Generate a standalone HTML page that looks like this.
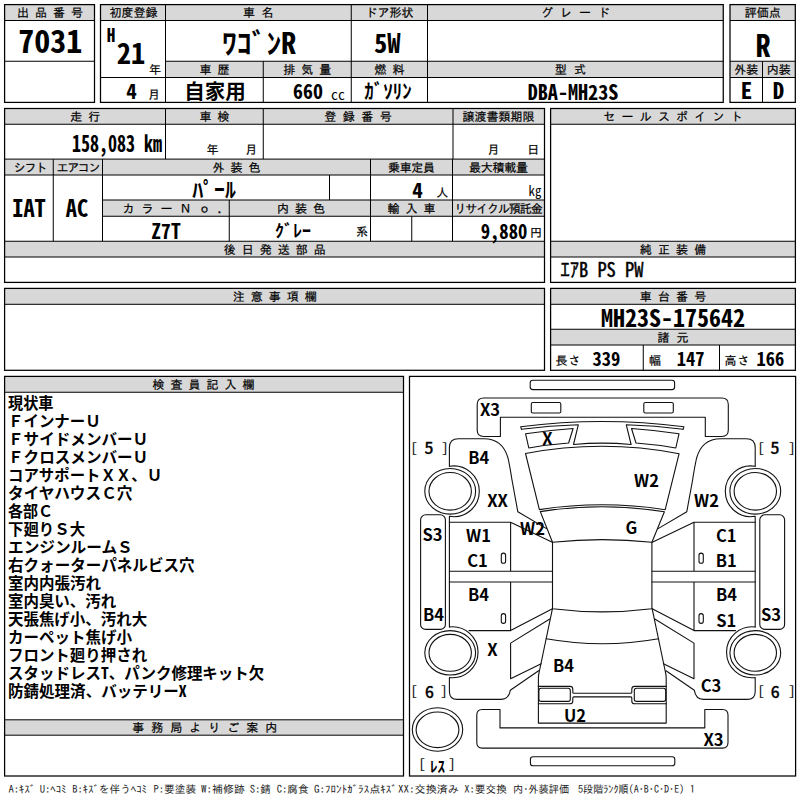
<!DOCTYPE html>
<html lang="ja"><head><meta charset="utf-8"><title>出品票</title>
<style>
html,body{margin:0;padding:0;background:#fff;}
body{width:800px;height:800px;position:relative;overflow:hidden;}
svg{position:absolute;left:0;top:0;}
.t{position:absolute;white-space:nowrap;display:block;}
</style></head><body>
<svg width="800" height="800" viewBox="0 0 800 800" shape-rendering="geometricPrecision">
<rect x="5" y="4.6" width="89.50" height="15.90" fill="#d8d8d8"/>
<rect x="4.6" y="4.6" width="89.90" height="97.80" fill="none" stroke="#000" stroke-width="1.25"/>
<line x1="5" y1="20.5" x2="94.5" y2="20.5" stroke="#000" stroke-width="1.0"/>
<line x1="5" y1="61.25" x2="94.5" y2="61.25" stroke="#000" stroke-width="1.0"/>
<rect x="100.5" y="4.6" width="622.75" height="15.90" fill="#d8d8d8"/>
<rect x="165.5" y="61.25" width="557.75" height="16.25" fill="#d8d8d8"/>
<rect x="100.5" y="4.6" width="622.75" height="97.80" fill="none" stroke="#000" stroke-width="1.25"/>
<line x1="100.5" y1="20.5" x2="723.25" y2="20.5" stroke="#000" stroke-width="1.0"/>
<line x1="165.5" y1="61.25" x2="723.25" y2="61.25" stroke="#000" stroke-width="1.0"/>
<line x1="165.5" y1="77.5" x2="723.25" y2="77.5" stroke="#000" stroke-width="1.0"/>
<line x1="100.5" y1="77.5" x2="165.5" y2="77.5" stroke="#000" stroke-width="1.0"/>
<line x1="165.5" y1="4.6" x2="165.5" y2="102.4" stroke="#000" stroke-width="1.0"/>
<line x1="351.25" y1="4.6" x2="351.25" y2="102.4" stroke="#000" stroke-width="1.0"/>
<line x1="427.5" y1="4.6" x2="427.5" y2="102.4" stroke="#000" stroke-width="1.0"/>
<line x1="263.25" y1="61.25" x2="263.25" y2="102.4" stroke="#000" stroke-width="1.0"/>
<rect x="730" y="4.6" width="65.30" height="15.90" fill="#d8d8d8"/>
<rect x="730" y="61.25" width="65.30" height="16.25" fill="#d8d8d8"/>
<rect x="730" y="4.6" width="65.30" height="97.80" fill="none" stroke="#000" stroke-width="1.25"/>
<line x1="730" y1="20.5" x2="795.3" y2="20.5" stroke="#000" stroke-width="1.0"/>
<line x1="730" y1="61.25" x2="795.3" y2="61.25" stroke="#000" stroke-width="1.0"/>
<line x1="730" y1="77.5" x2="795.3" y2="77.5" stroke="#000" stroke-width="1.0"/>
<line x1="762.5" y1="61.25" x2="762.5" y2="102.4" stroke="#000" stroke-width="1.0"/>
<rect x="4.6" y="108.5" width="539.90" height="15.75" fill="#d8d8d8"/>
<rect x="4.6" y="159.1" width="539.90" height="15.90" fill="#d8d8d8"/>
<rect x="102.5" y="200" width="442.00" height="16.25" fill="#d8d8d8"/>
<rect x="4.6" y="241.25" width="539.90" height="15.75" fill="#d8d8d8"/>
<rect x="4.6" y="108.5" width="539.90" height="173.90" fill="none" stroke="#000" stroke-width="1.25"/>
<line x1="4.6" y1="124.25" x2="544.5" y2="124.25" stroke="#000" stroke-width="1.0"/>
<line x1="4.6" y1="159.1" x2="544.5" y2="159.1" stroke="#000" stroke-width="1.0"/>
<line x1="4.6" y1="175" x2="544.5" y2="175" stroke="#000" stroke-width="1.0"/>
<line x1="4.6" y1="241.25" x2="544.5" y2="241.25" stroke="#000" stroke-width="1.0"/>
<line x1="4.6" y1="257" x2="544.5" y2="257" stroke="#000" stroke-width="1.0"/>
<line x1="102.5" y1="200" x2="544.5" y2="200" stroke="#000" stroke-width="1.0"/>
<line x1="102.5" y1="216.25" x2="544.5" y2="216.25" stroke="#000" stroke-width="1.0"/>
<line x1="165.5" y1="108.5" x2="165.5" y2="159.1" stroke="#000" stroke-width="1.0"/>
<line x1="263.25" y1="108.5" x2="263.25" y2="159.1" stroke="#000" stroke-width="1.0"/>
<line x1="453" y1="108.5" x2="453" y2="159.1" stroke="#000" stroke-width="1.0"/>
<line x1="53.25" y1="159.1" x2="53.25" y2="241.25" stroke="#000" stroke-width="1.0"/>
<line x1="102.5" y1="159.1" x2="102.5" y2="241.25" stroke="#000" stroke-width="1.0"/>
<line x1="370.5" y1="159.1" x2="370.5" y2="241.25" stroke="#000" stroke-width="1.0"/>
<line x1="452.5" y1="159.1" x2="452.5" y2="241.25" stroke="#000" stroke-width="1.0"/>
<line x1="329.5" y1="175" x2="329.5" y2="200" stroke="#000" stroke-width="1.0"/>
<line x1="229.25" y1="200" x2="229.25" y2="241.25" stroke="#000" stroke-width="1.0"/>
<line x1="411.75" y1="216.25" x2="411.75" y2="241.25" stroke="#000" stroke-width="1.0"/>
<rect x="550.6" y="108.5" width="244.80" height="15.75" fill="#d8d8d8"/>
<rect x="550.6" y="241.25" width="244.80" height="15.75" fill="#d8d8d8"/>
<rect x="550.6" y="108.5" width="244.80" height="173.90" fill="none" stroke="#000" stroke-width="1.25"/>
<line x1="550.6" y1="124.25" x2="795.4" y2="124.25" stroke="#000" stroke-width="1.0"/>
<line x1="550.6" y1="241.25" x2="795.4" y2="241.25" stroke="#000" stroke-width="1.0"/>
<line x1="550.6" y1="257" x2="795.4" y2="257" stroke="#000" stroke-width="1.0"/>
<rect x="4.6" y="288.4" width="539.90" height="15.90" fill="#d8d8d8"/>
<rect x="4.6" y="288.4" width="539.90" height="81.90" fill="none" stroke="#000" stroke-width="1.25"/>
<line x1="4.6" y1="304.3" x2="544.5" y2="304.3" stroke="#000" stroke-width="1.0"/>
<rect x="550.6" y="288.4" width="244.80" height="15.90" fill="#d8d8d8"/>
<rect x="550.6" y="329.25" width="244.80" height="15.75" fill="#d8d8d8"/>
<rect x="550.6" y="288.4" width="244.80" height="81.90" fill="none" stroke="#000" stroke-width="1.25"/>
<line x1="550.6" y1="304.3" x2="795.4" y2="304.3" stroke="#000" stroke-width="1.0"/>
<line x1="550.6" y1="329.25" x2="795.4" y2="329.25" stroke="#000" stroke-width="1.0"/>
<line x1="550.6" y1="345" x2="795.4" y2="345" stroke="#000" stroke-width="1.0"/>
<line x1="643.25" y1="345" x2="643.25" y2="370.3" stroke="#000" stroke-width="1.0"/>
<line x1="719.5" y1="345" x2="719.5" y2="370.3" stroke="#000" stroke-width="1.0"/>
<rect x="4.6" y="376.4" width="398.90" height="15.85" fill="#d8d8d8"/>
<rect x="4.6" y="719.8" width="398.90" height="15.40" fill="#d8d8d8"/>
<rect x="4.6" y="376.4" width="398.90" height="399.60" fill="none" stroke="#000" stroke-width="1.25"/>
<line x1="4.6" y1="392.25" x2="403.5" y2="392.25" stroke="#000" stroke-width="1.0"/>
<line x1="4.6" y1="719.8" x2="403.5" y2="719.8" stroke="#000" stroke-width="1.0"/>
<line x1="4.6" y1="735.2" x2="403.5" y2="735.2" stroke="#000" stroke-width="1.0"/>
<rect x="409.5" y="376.4" width="386.10" height="399.60" fill="none" stroke="#000" stroke-width="1.25"/>
</svg>
<svg width="800" height="800" viewBox="0 0 800 800" fill="none" stroke="#111" stroke-width="1.1" stroke-linejoin="round" stroke-linecap="round">
<rect x="530.2" y="380.2" width="144.40" height="9.40" rx="2.6" ry="2.6"/>
<rect x="530.4" y="756.8" width="144.40" height="9.00" rx="2.6" ry="2.6"/>
<path d="M477.2,404.5 Q477.2,398 483.7,398 H721.8 Q728.3,398 728.3,404.5 V430 Q728.3,436.5 721.8,436.5 H705.3 V417.2 H500.4 V436.5 H483.7 Q477.2,436.5 477.2,430 Z" />
<path d="M521.5,429.3 L520.7,426.8 Q602.3,416.2 683.9,426.8 L683.1,429.3" />
<path d="M521.5,429.3 Q549.9,425.6 578.3,424.8 L573.5,444.5 Q602.3,441.8 631.1,444.5 L626.3,424.8 Q654.7,425.6 683.1,429.3" />
<path d="M525.5,453.5 Q602.3,439 679.1,453.7 L665.2,509.7 Q602.3,500 539.4,509.6 Z" />
<path d="M540.3,511.6 Q602.3,501.8 664.4,511.7 L651.9,542.3 Q602.3,537 552.5,542.3 Z" />
<path d="M552.5,542.3 V608.8 Q602.3,615 651.9,608.8 V542.3" />
<path d="M546.3,638.8 Q602.3,648.8 658.6,638.8" />
<path d="M538.4,686.4 V723.1 H666.2 V686.4" />
<path d="M538.4,686.4 H570 Q572.8,686.4 572.8,689.2 V692.2 Q572.8,693.2 573.8,693.2 H630.8 Q631.8,693.2 631.8,692.2 V689.2 Q631.8,686.4 634.6,686.4 H666.2" />
<path d="M538.4,703.8 H570 Q572.8,703.8 572.8,701 V697.9 Q572.8,696.9 573.8,696.9 H630.8 Q631.8,696.9 631.8,697.9 V701 Q631.8,703.8 634.6,703.8 H666.2" />
<path d="M476.8,715 Q476.8,709.5 482.3,709.5 H500 V727.9 H704.8 V709.5 H722.5 Q728,709.5 728,715 V742.6 Q728,748.1 722.5,748.1 H482.3 Q476.8,748.1 476.8,742.6 Z" />
<ellipse cx="437.5" cy="729.5" rx="25.2" ry="21.8"/>
<ellipse cx="437.5" cy="729.8" rx="21.4" ry="17.8"/>
<rect x="531.3" y="402.5" width="29.50" height="10.50" rx="1.6" ry="1.6"/>
<path d="M525.6,433.8 Q549,430.2 573.1,428.5 L568.6,443 Q548,444.6 528.8,448 Z" />
<path d="M449.4,466.3 V447.6 Q449.4,438.7 458.4,438.7 H484 C496.5,438.7 504.5,445.5 508,458 Q510,467 512,480 L517.8,511.7 L546.5,528.6" />
<path d="M449.4,466.3 A25.4,25.4 0 1 1 449.4,516.3 V627" />
<ellipse cx="450.2" cy="491.3" rx="25.4" ry="22.8"/>
<ellipse cx="450.2" cy="491.3" rx="21.2" ry="18.8"/>
<rect x="420.6" y="514.8" width="24.80" height="114.60" rx="5" ry="5"/>
<path d="M449.4,522.3 H510.6 L552.3,542.2 M510.6,522.3 V571.3 M449.4,571.3 H552.5 M449.4,582 H552.5 M510.6,582 V630.6 M469,630.6 H510.6 L552.4,608.8" />
<rect x="501.3" y="553.1" width="4.30" height="10.20" rx="2.1" ry="2.1"/>
<rect x="501.3" y="613.6" width="4.30" height="9.80" rx="2.1" ry="2.1"/>
<path d="M449.4,627 A25.45,25.45 0 1 1 449.4,677.5 V691.4 Q449.4,699.4 457.4,699.4 H501 Q509,699.4 510.3,690.2 L538.6,670.7" />
<ellipse cx="450.2" cy="652.8" rx="25.4" ry="22.2"/>
<ellipse cx="450.2" cy="652.8" rx="21.2" ry="18.4"/>
<path d="M552.4,608.8 L539.2,672 Q538.4,675 538.4,678 V686.3" />
<path d="M549.8,619 L510.6,643.1 V678.8 L541.2,663.8" />
<rect x="538.9" y="688.3" width="31.40" height="13.10" rx="2.2" ry="2.2"/>
<g transform="translate(1204.60,0) scale(-1,1)">
<rect x="531.3" y="402.5" width="29.50" height="10.50" rx="1.6" ry="1.6"/>
<path d="M525.6,433.8 Q549,430.2 573.1,428.5 L568.6,443 Q548,444.6 528.8,448 Z" />
<path d="M449.4,466.3 V447.6 Q449.4,438.7 458.4,438.7 H484 C496.5,438.7 504.5,445.5 508,458 Q510,467 512,480 L517.8,511.7 L546.5,528.6" />
<path d="M449.4,466.3 A25.4,25.4 0 1 1 449.4,516.3 V627" />
<ellipse cx="449.3" cy="491.3" rx="25.4" ry="22.8"/>
<ellipse cx="449.3" cy="491.3" rx="21.2" ry="18.8"/>
<rect x="420.0" y="514.8" width="24.80" height="114.60" rx="5" ry="5"/>
<path d="M449.4,522.3 H510.6 L552.3,542.2 M510.6,522.3 V571.3 M449.4,571.3 H552.5 M449.4,582 H552.5 M510.6,582 V630.6 M469,630.6 H510.6 L552.4,608.8" />
<rect x="501.3" y="553.1" width="4.30" height="10.20" rx="2.1" ry="2.1"/>
<rect x="501.3" y="613.6" width="4.30" height="9.80" rx="2.1" ry="2.1"/>
<path d="M449.4,627 A25.45,25.45 0 1 1 449.4,677.5 V691.4 Q449.4,699.4 457.4,699.4 H501 Q509,699.4 510.3,690.2 L538.6,670.7" />
<ellipse cx="449.3" cy="652.8" rx="25.4" ry="22.2"/>
<ellipse cx="449.3" cy="652.8" rx="21.2" ry="18.4"/>
<path d="M552.4,608.8 L539.2,672 Q538.4,675 538.4,678 V686.3" />
<path d="M549.8,619 L510.6,643.1 V678.8 L541.2,663.8" />
<rect x="538.9" y="688.3" width="31.40" height="13.10" rx="2.2" ry="2.2"/>
</g>
</svg>
<span class="t" style="left:53.0px;top:12.1px;font:normal 12px/1 'IPAGothic','Noto Sans CJK JP',sans-serif;letter-spacing:6px;margin-right:-6px;transform:translate(-50%,-50%);transform-origin:50% 50%;color:#000;-webkit-text-stroke:0.2px #000;">出品番号</span>
<span class="t" style="left:133.5px;top:12.1px;font:normal 12px/1 'IPAGothic','Noto Sans CJK JP',sans-serif;transform:translate(-50%,-50%);transform-origin:50% 50%;color:#000;-webkit-text-stroke:0.2px #000;">初度登録</span>
<span class="t" style="left:261.4px;top:12.1px;font:normal 12px/1 'IPAGothic','Noto Sans CJK JP',sans-serif;letter-spacing:6.4px;margin-right:-6.4px;transform:translate(-50%,-50%);transform-origin:50% 50%;color:#000;-webkit-text-stroke:0.2px #000;">車名</span>
<span class="t" style="left:389.4px;top:12.1px;font:normal 12px/1 'IPAGothic','Noto Sans CJK JP',sans-serif;transform:translate(-50%,-50%);transform-origin:50% 50%;color:#000;-webkit-text-stroke:0.2px #000;">ドア形状</span>
<span class="t" style="left:578.9px;top:12.1px;font:normal 12px/1 'IPAGothic','Noto Sans CJK JP',sans-serif;letter-spacing:7px;margin-right:-7px;transform:translate(-50%,-50%);transform-origin:50% 50%;color:#000;-webkit-text-stroke:0.2px #000;">グレード</span>
<span class="t" style="left:762.8px;top:12.1px;font:normal 12px/1 'IPAGothic','Noto Sans CJK JP',sans-serif;transform:translate(-50%,-50%);transform-origin:50% 50%;color:#000;-webkit-text-stroke:0.2px #000;">評価点</span>
<span class="t" style="left:217.4px;top:69.0px;font:normal 12px/1 'IPAGothic','Noto Sans CJK JP',sans-serif;letter-spacing:6px;margin-right:-6px;transform:translate(-50%,-50%);transform-origin:50% 50%;color:#000;-webkit-text-stroke:0.2px #000;">車歴</span>
<span class="t" style="left:310.25px;top:69.0px;font:normal 12px/1 'IPAGothic','Noto Sans CJK JP',sans-serif;letter-spacing:6px;margin-right:-6px;transform:translate(-50%,-50%);transform-origin:50% 50%;color:#000;-webkit-text-stroke:0.2px #000;">排気量</span>
<span class="t" style="left:392.4px;top:69.0px;font:normal 12px/1 'IPAGothic','Noto Sans CJK JP',sans-serif;letter-spacing:6px;margin-right:-6px;transform:translate(-50%,-50%);transform-origin:50% 50%;color:#000;-webkit-text-stroke:0.2px #000;">燃料</span>
<span class="t" style="left:574.0px;top:69.0px;font:normal 12px/1 'IPAGothic','Noto Sans CJK JP',sans-serif;letter-spacing:7.2px;margin-right:-7.2px;transform:translate(-50%,-50%);transform-origin:50% 50%;color:#000;-webkit-text-stroke:0.2px #000;">型式</span>
<span class="t" style="left:746.25px;top:69.0px;font:normal 12px/1 'IPAGothic','Noto Sans CJK JP',sans-serif;transform:translate(-50%,-50%);transform-origin:50% 50%;color:#000;-webkit-text-stroke:0.2px #000;">外装</span>
<span class="t" style="left:778.75px;top:69.0px;font:normal 12px/1 'IPAGothic','Noto Sans CJK JP',sans-serif;transform:translate(-50%,-50%);transform-origin:50% 50%;color:#000;-webkit-text-stroke:0.2px #000;">内装</span>
<span class="t" style="left:88.25px;top:116.1px;font:normal 12px/1 'IPAGothic','Noto Sans CJK JP',sans-serif;letter-spacing:6px;margin-right:-6px;transform:translate(-50%,-50%);transform-origin:50% 50%;color:#000;-webkit-text-stroke:0.2px #000;">走行</span>
<span class="t" style="left:217.4px;top:116.1px;font:normal 12px/1 'IPAGothic','Noto Sans CJK JP',sans-serif;letter-spacing:6px;margin-right:-6px;transform:translate(-50%,-50%);transform-origin:50% 50%;color:#000;-webkit-text-stroke:0.2px #000;">車検</span>
<span class="t" style="left:361.25px;top:116.1px;font:normal 12px/1 'IPAGothic','Noto Sans CJK JP',sans-serif;letter-spacing:6.5px;margin-right:-6.5px;transform:translate(-50%,-50%);transform-origin:50% 50%;color:#000;-webkit-text-stroke:0.2px #000;">登録番号</span>
<span class="t" style="left:498.5px;top:116.1px;font:normal 12px/1 'IPAGothic','Noto Sans CJK JP',sans-serif;transform:translate(-50%,-50%);transform-origin:50% 50%;color:#000;-webkit-text-stroke:0.2px #000;">譲渡書類期限</span>
<span class="t" style="left:676.1px;top:116.1px;font:normal 12px/1 'IPAGothic','Noto Sans CJK JP',sans-serif;letter-spacing:6.2px;margin-right:-6.2px;transform:translate(-50%,-50%);transform-origin:50% 50%;color:#000;-webkit-text-stroke:0.2px #000;">セールスポイント</span>
<span class="t" style="left:30.0px;top:166.5px;font:normal 12px/1 'IPAGothic','Noto Sans CJK JP',sans-serif;letter-spacing:-1.2px;margin-right:1.2px;transform:translate(-50%,-50%);transform-origin:50% 50%;color:#000;-webkit-text-stroke:0.2px #000;">シフト</span>
<span class="t" style="left:77.85px;top:166.5px;font:normal 12px/1 'IPAGothic','Noto Sans CJK JP',sans-serif;letter-spacing:-1.3px;margin-right:1.3px;transform:translate(-50%,-50%);transform-origin:50% 50%;color:#000;-webkit-text-stroke:0.2px #000;">エアコン</span>
<span class="t" style="left:239.5px;top:166.5px;font:normal 12px/1 'IPAGothic','Noto Sans CJK JP',sans-serif;letter-spacing:6px;margin-right:-6px;transform:translate(-50%,-50%);transform-origin:50% 50%;color:#000;-webkit-text-stroke:0.2px #000;">外装色</span>
<span class="t" style="left:411.35px;top:166.5px;font:normal 12px/1 'IPAGothic','Noto Sans CJK JP',sans-serif;letter-spacing:-0.3px;margin-right:0.3px;transform:translate(-50%,-50%);transform-origin:50% 50%;color:#000;-webkit-text-stroke:0.2px #000;">乗車定員</span>
<span class="t" style="left:498.35px;top:166.5px;font:normal 12px/1 'IPAGothic','Noto Sans CJK JP',sans-serif;letter-spacing:-0.3px;margin-right:0.3px;transform:translate(-50%,-50%);transform-origin:50% 50%;color:#000;-webkit-text-stroke:0.2px #000;">最大積載量</span>
<span class="t" style="left:179.5px;top:207.7px;font:normal 12px/1 'IPAGothic','Noto Sans CJK JP',sans-serif;letter-spacing:7px;margin-right:-7px;transform:translate(-50%,-50%);transform-origin:50% 50%;color:#000;-webkit-text-stroke:0.2px #000;">カラーＮｏ．</span>
<span class="t" style="left:304.0px;top:207.7px;font:normal 12px/1 'IPAGothic','Noto Sans CJK JP',sans-serif;letter-spacing:6px;margin-right:-6px;transform:translate(-50%,-50%);transform-origin:50% 50%;color:#000;-webkit-text-stroke:0.2px #000;">内装色</span>
<span class="t" style="left:414.5px;top:207.7px;font:normal 12px/1 'IPAGothic','Noto Sans CJK JP',sans-serif;letter-spacing:6px;margin-right:-6px;transform:translate(-50%,-50%);transform-origin:50% 50%;color:#000;-webkit-text-stroke:0.2px #000;">輸入車</span>
<span class="t" style="left:497.95px;top:207.7px;font:normal 12px/1 'IPAGothic','Noto Sans CJK JP',sans-serif;letter-spacing:-1.1px;margin-right:1.1px;transform:translate(-50%,-50%);transform-origin:50% 50%;color:#000;-webkit-text-stroke:0.2px #000;">リサイクル預託金</span>
<span class="t" style="left:277.75px;top:248.7px;font:normal 12px/1 'IPAGothic','Noto Sans CJK JP',sans-serif;letter-spacing:6px;margin-right:-6px;transform:translate(-50%,-50%);transform-origin:50% 50%;color:#000;-webkit-text-stroke:0.2px #000;">後日発送部品</span>
<span class="t" style="left:676.1px;top:248.7px;font:normal 12px/1 'IPAGothic','Noto Sans CJK JP',sans-serif;letter-spacing:6.2px;margin-right:-6.2px;transform:translate(-50%,-50%);transform-origin:50% 50%;color:#000;-webkit-text-stroke:0.2px #000;">純正装備</span>
<span class="t" style="left:277.75px;top:296.1px;font:normal 12px/1 'IPAGothic','Noto Sans CJK JP',sans-serif;letter-spacing:6px;margin-right:-6px;transform:translate(-50%,-50%);transform-origin:50% 50%;color:#000;-webkit-text-stroke:0.2px #000;">注意事項欄</span>
<span class="t" style="left:676.1px;top:296.1px;font:normal 12px/1 'IPAGothic','Noto Sans CJK JP',sans-serif;letter-spacing:6.2px;margin-right:-6.2px;transform:translate(-50%,-50%);transform-origin:50% 50%;color:#000;-webkit-text-stroke:0.2px #000;">車台番号</span>
<span class="t" style="left:676.5px;top:336.7px;font:normal 12px/1 'IPAGothic','Noto Sans CJK JP',sans-serif;letter-spacing:7px;margin-right:-7px;transform:translate(-50%,-50%);transform-origin:50% 50%;color:#000;-webkit-text-stroke:0.2px #000;">諸元</span>
<span class="t" style="left:206.5px;top:384.1px;font:normal 12px/1 'IPAGothic','Noto Sans CJK JP',sans-serif;letter-spacing:6px;margin-right:-6px;transform:translate(-50%,-50%);transform-origin:50% 50%;color:#000;-webkit-text-stroke:0.2px #000;">検査員記入欄</span>
<span class="t" style="left:208.25px;top:727.3px;font:normal 12px/1 'IPAGothic','Noto Sans CJK JP',sans-serif;letter-spacing:7px;margin-right:-7px;transform:translate(-50%,-50%);transform-origin:50% 50%;color:#000;-webkit-text-stroke:0.2px #000;">事務局よりご案内</span>
<span class="t" style="left:50.3px;top:38.9px;font:bold 32px/1 'Noto Sans Mono CJK JP','Noto Sans CJK JP','Liberation Mono',monospace;transform:translate(-50%,-50%);transform-origin:50% 50%;color:#000;">7031</span>
<span class="t" style="left:111.0px;top:33.3px;font:bold 19px/1 'Noto Sans Mono CJK JP','Noto Sans CJK JP','Liberation Mono',monospace;transform:translate(-50%,-50%) scale(0.9,1.0);transform-origin:50% 50%;color:#000;">H</span>
<span class="t" style="left:131.0px;top:51.0px;font:bold 29px/1 'Noto Sans Mono CJK JP','Noto Sans CJK JP','Liberation Mono',monospace;transform:translate(-50%,-50%) scale(0.98,1.0);transform-origin:50% 50%;color:#000;">21</span>
<span class="t" style="left:155.0px;top:68.5px;font:normal 12px/1 'IPAGothic','Noto Sans CJK JP',sans-serif;transform:translate(-50%,-50%);transform-origin:50% 50%;color:#000;-webkit-text-stroke:0.2px #000;">年</span>
<span class="t" style="left:154.0px;top:93.7px;font:normal 12px/1 'IPAGothic','Noto Sans CJK JP',sans-serif;transform:translate(-50%,-50%);transform-origin:50% 50%;color:#000;-webkit-text-stroke:0.2px #000;">月</span>
<span class="t" style="left:131.6px;top:90.2px;font:bold 21px/1 'Noto Sans Mono CJK JP','Noto Sans CJK JP','Liberation Mono',monospace;transform:translate(-50%,-50%);transform-origin:50% 50%;color:#000;">4</span>
<span class="t" style="left:259.2px;top:41.9px;font:bold 28.8px/1 'Noto Sans Mono CJK JP','Noto Sans CJK JP','Liberation Mono',monospace;transform:translate(-50%,-50%) scale(1.03,1.0);transform-origin:50% 50%;color:#000;">ﾜｺﾞﾝR</span>
<span class="t" style="left:387.2px;top:42.3px;font:bold 26.5px/1 'Noto Sans Mono CJK JP','Noto Sans CJK JP','Liberation Mono',monospace;transform:translate(-50%,-50%);transform-origin:50% 50%;color:#000;">5W</span>
<span class="t" style="left:763.0px;top:42.5px;font:bold 31px/1 'Noto Sans Mono CJK JP','Noto Sans CJK JP','Liberation Mono',monospace;transform:translate(-50%,-50%) scale(0.95,1.0);transform-origin:50% 50%;color:#000;">R</span>
<span class="t" style="left:746.5px;top:88.9px;font:bold 23px/1 'Noto Sans Mono CJK JP','Noto Sans CJK JP','Liberation Mono',monospace;transform:translate(-50%,-50%);transform-origin:50% 50%;color:#000;">E</span>
<span class="t" style="left:778.6px;top:88.9px;font:bold 23px/1 'Noto Sans Mono CJK JP','Noto Sans CJK JP','Liberation Mono',monospace;transform:translate(-50%,-50%);transform-origin:50% 50%;color:#000;">D</span>
<span class="t" style="left:215.1px;top:89.6px;font:bold 20.5px/1 'Noto Sans CJK JP','Liberation Sans',sans-serif;transform:translate(-50%,-50%);transform-origin:50% 50%;color:#000;">自家用</span>
<span class="t" style="left:308.0px;top:90.2px;font:bold 21px/1 'Noto Sans Mono CJK JP','Noto Sans CJK JP','Liberation Mono',monospace;transform:translate(-50%,-50%) scale(0.95,1.0);transform-origin:50% 50%;color:#000;">660</span>
<span class="t" style="left:338.0px;top:94px;font:normal 14px/1 'Noto Sans Mono CJK JP','Noto Sans CJK JP','Liberation Mono',monospace;transform:translate(-50%,-50%);transform-origin:50% 50%;color:#000;">cc</span>
<span class="t" style="left:388.0px;top:91.2px;font:bold 20px/1 'Noto Sans Mono CJK JP','Noto Sans CJK JP','Liberation Mono',monospace;transform:translate(-50%,-50%) scale(0.95,1.0);transform-origin:50% 50%;color:#000;">ｶﾞｿﾘﾝ</span>
<span class="t" style="left:573.2px;top:91.4px;font:bold 21px/1 'Noto Sans Mono CJK JP','Noto Sans CJK JP','Liberation Mono',monospace;transform:translate(-50%,-50%) scale(0.96,1.0);transform-origin:50% 50%;color:#000;">DBA-MH23S</span>
<span class="t" style="left:117.3px;top:142.3px;font:bold 22.5px/1 'Noto Sans Mono CJK JP','Noto Sans CJK JP','Liberation Mono',monospace;transform:translate(-50%,-50%) scale(0.8,1.0);transform-origin:50% 50%;color:#000;">158,083 km</span>
<span class="t" style="left:212.5px;top:148.8px;font:normal 12px/1 'IPAGothic','Noto Sans CJK JP',sans-serif;transform:translate(-50%,-50%);transform-origin:50% 50%;color:#000;-webkit-text-stroke:0.2px #000;">年</span>
<span class="t" style="left:251.3px;top:148.8px;font:normal 12px/1 'IPAGothic','Noto Sans CJK JP',sans-serif;transform:translate(-50%,-50%);transform-origin:50% 50%;color:#000;-webkit-text-stroke:0.2px #000;">月</span>
<span class="t" style="left:493.5px;top:149.2px;font:normal 12px/1 'IPAGothic','Noto Sans CJK JP',sans-serif;transform:translate(-50%,-50%);transform-origin:50% 50%;color:#000;-webkit-text-stroke:0.2px #000;">月</span>
<span class="t" style="left:533.2px;top:149.2px;font:normal 12px/1 'IPAGothic','Noto Sans CJK JP',sans-serif;transform:translate(-50%,-50%);transform-origin:50% 50%;color:#000;-webkit-text-stroke:0.2px #000;">日</span>
<span class="t" style="left:28.75px;top:207px;font:bold 24px/1 'Noto Sans Mono CJK JP','Noto Sans CJK JP','Liberation Mono',monospace;transform:translate(-50%,-50%) scale(0.93,1.0);transform-origin:50% 50%;color:#000;">IAT</span>
<span class="t" style="left:77.0px;top:207px;font:bold 24px/1 'Noto Sans Mono CJK JP','Noto Sans CJK JP','Liberation Mono',monospace;transform:translate(-50%,-50%) scale(0.93,1.0);transform-origin:50% 50%;color:#000;">AC</span>
<span class="t" style="left:213.8px;top:188.1px;font:bold 21px/1 'Noto Sans Mono CJK JP','Noto Sans CJK JP','Liberation Mono',monospace;transform:translate(-50%,-50%) scale(1.04,1.0);transform-origin:50% 50%;color:#000;">ﾊﾟｰﾙ</span>
<span class="t" style="left:417.6px;top:188.8px;font:bold 21px/1 'Noto Sans Mono CJK JP','Noto Sans CJK JP','Liberation Mono',monospace;transform:translate(-50%,-50%);transform-origin:50% 50%;color:#000;">4</span>
<span class="t" style="left:442.3px;top:191.8px;font:normal 12px/1 'IPAGothic','Noto Sans CJK JP',sans-serif;transform:translate(-50%,-50%);transform-origin:50% 50%;color:#000;-webkit-text-stroke:0.2px #000;">人</span>
<span class="t" style="left:535.3px;top:190.7px;font:normal 13.5px/1 'Noto Sans Mono CJK JP','Noto Sans CJK JP','Liberation Mono',monospace;transform:translate(-50%,-50%) scale(0.95,1.0);transform-origin:50% 50%;color:#000;">kg</span>
<span class="t" style="left:166.0px;top:230px;font:bold 21px/1 'Noto Sans Mono CJK JP','Noto Sans CJK JP','Liberation Mono',monospace;transform:translate(-50%,-50%) scale(0.93,1.0);transform-origin:50% 50%;color:#000;">Z7T</span>
<span class="t" style="left:292.5px;top:230.4px;font:bold 17.5px/1 'Noto Sans Mono CJK JP','Noto Sans CJK JP','Liberation Mono',monospace;transform:translate(-50%,-50%) scale(1.03,1.0);transform-origin:50% 50%;color:#000;">ｸﾞﾚｰ</span>
<span class="t" style="left:362.0px;top:231.3px;font:normal 12px/1 'IPAGothic','Noto Sans CJK JP',sans-serif;transform:translate(-50%,-50%);transform-origin:50% 50%;color:#000;-webkit-text-stroke:0.2px #000;">系</span>
<span class="t" style="left:503.6px;top:229.9px;font:bold 21px/1 'Noto Sans Mono CJK JP','Noto Sans CJK JP','Liberation Mono',monospace;transform:translate(-50%,-50%) scale(0.885,1.0);transform-origin:50% 50%;color:#000;">9,880</span>
<span class="t" style="left:535.9px;top:231.8px;font:normal 12px/1 'IPAGothic','Noto Sans CJK JP',sans-serif;transform:translate(-50%,-50%);transform-origin:50% 50%;color:#000;-webkit-text-stroke:0.2px #000;">円</span>
<span class="t" style="left:602.0px;top:269.3px;font:normal 20px/1 'Noto Sans Mono CJK JP','Noto Sans CJK JP','Liberation Mono',monospace;transform:translate(-50%,-50%) scale(0.92,1.0);transform-origin:50% 50%;color:#000;-webkit-text-stroke:0.45px #000;">ｴｱB PS PW</span>
<span class="t" style="left:672.5px;top:316.6px;font:bold 24.5px/1 'Noto Sans Mono CJK JP','Noto Sans CJK JP','Liberation Mono',monospace;transform:translate(-50%,-50%) scale(0.98,1.0);transform-origin:50% 50%;color:#000;">MH23S-175642</span>
<span class="t" style="left:568.5px;top:359.9px;font:normal 12px/1 'IPAGothic','Noto Sans CJK JP',sans-serif;letter-spacing:1px;margin-right:-1px;transform:translate(-50%,-50%);transform-origin:50% 50%;color:#000;-webkit-text-stroke:0.2px #000;">長さ</span>
<span class="t" style="left:606.4px;top:358px;font:bold 18.5px/1 'Noto Sans Mono CJK JP','Noto Sans CJK JP','Liberation Mono',monospace;transform:translate(-50%,-50%);transform-origin:50% 50%;color:#000;">339</span>
<span class="t" style="left:655.0px;top:359.9px;font:normal 12px/1 'IPAGothic','Noto Sans CJK JP',sans-serif;transform:translate(-50%,-50%);transform-origin:50% 50%;color:#000;-webkit-text-stroke:0.2px #000;">幅</span>
<span class="t" style="left:690.6px;top:358px;font:bold 18.5px/1 'Noto Sans Mono CJK JP','Noto Sans CJK JP','Liberation Mono',monospace;transform:translate(-50%,-50%);transform-origin:50% 50%;color:#000;">147</span>
<span class="t" style="left:737.5px;top:359.9px;font:normal 12px/1 'IPAGothic','Noto Sans CJK JP',sans-serif;letter-spacing:1px;margin-right:-1px;transform:translate(-50%,-50%);transform-origin:50% 50%;color:#000;-webkit-text-stroke:0.2px #000;">高さ</span>
<span class="t" style="left:770.4px;top:358px;font:bold 18.5px/1 'Noto Sans Mono CJK JP','Noto Sans CJK JP','Liberation Mono',monospace;transform:translate(-50%,-50%);transform-origin:50% 50%;color:#000;">166</span>
<span class="t" style="left:8.3px;top:402.5px;font:bold 15.5px/1 'Noto Sans CJK JP','Liberation Sans',sans-serif;transform:translate(0,-50%) scale(0.978,1.0);transform-origin:0 50%;color:#000;">現状車</span>
<span class="t" style="left:8.3px;top:420.5px;font:bold 15.5px/1 'Noto Sans CJK JP','Liberation Sans',sans-serif;transform:translate(0,-50%) scale(0.997,1.0);transform-origin:0 50%;color:#000;">ＦインナーＵ</span>
<span class="t" style="left:8.3px;top:438.5px;font:bold 15.5px/1 'Noto Sans CJK JP','Liberation Sans',sans-serif;transform:translate(0,-50%) scale(1.005,1.0);transform-origin:0 50%;color:#000;">ＦサイドメンバーＵ</span>
<span class="t" style="left:8.3px;top:456.5px;font:bold 15.5px/1 'Noto Sans CJK JP','Liberation Sans',sans-serif;transform:translate(0,-50%) scale(1.005,1.0);transform-origin:0 50%;color:#000;">ＦクロスメンバーＵ</span>
<span class="t" style="left:8.3px;top:474.5px;font:bold 15.5px/1 'Noto Sans CJK JP','Liberation Sans',sans-serif;transform:translate(0,-50%) scale(0.994,1.0);transform-origin:0 50%;color:#000;">コアサポートＸＸ、Ｕ</span>
<span class="t" style="left:8.3px;top:492.5px;font:bold 15.5px/1 'Noto Sans CJK JP','Liberation Sans',sans-serif;transform:translate(0,-50%) scale(1.01,1.0);transform-origin:0 50%;color:#000;">タイヤハウスＣ穴</span>
<span class="t" style="left:8.3px;top:510.5px;font:bold 15.5px/1 'Noto Sans CJK JP','Liberation Sans',sans-serif;transform:translate(0,-50%) scale(0.968,1.0);transform-origin:0 50%;color:#000;">各部Ｃ</span>
<span class="t" style="left:8.3px;top:528.5px;font:bold 15.5px/1 'Noto Sans CJK JP','Liberation Sans',sans-serif;transform:translate(0,-50%) scale(0.994,1.0);transform-origin:0 50%;color:#000;">下廻りＳ大</span>
<span class="t" style="left:8.3px;top:546.5px;font:bold 15.5px/1 'Noto Sans CJK JP','Liberation Sans',sans-serif;transform:translate(0,-50%) scale(1.01,1.0);transform-origin:0 50%;color:#000;">エンジンルームＳ</span>
<span class="t" style="left:8.3px;top:564.5px;font:bold 15.5px/1 'Noto Sans CJK JP','Liberation Sans',sans-serif;transform:translate(0,-50%) scale(1.004,1.0);transform-origin:0 50%;color:#000;">右クォーターパネルビス穴</span>
<span class="t" style="left:8.3px;top:582.5px;font:bold 15.5px/1 'Noto Sans CJK JP','Liberation Sans',sans-serif;transform:translate(0,-50%) scale(1.001,1.0);transform-origin:0 50%;color:#000;">室内内張汚れ</span>
<span class="t" style="left:8.3px;top:600.5px;font:bold 15.5px/1 'Noto Sans CJK JP','Liberation Sans',sans-serif;transform:translate(0,-50%) scale(0.997,1.0);transform-origin:0 50%;color:#000;">室内臭い、汚れ</span>
<span class="t" style="left:8.3px;top:618.5px;font:bold 15.5px/1 'Noto Sans CJK JP','Liberation Sans',sans-serif;transform:translate(0,-50%) scale(0.997,1.0);transform-origin:0 50%;color:#000;">天張焦げ小、汚れ大</span>
<span class="t" style="left:8.3px;top:636.5px;font:bold 15.5px/1 'Noto Sans CJK JP','Liberation Sans',sans-serif;transform:translate(0,-50%) scale(1.001,1.0);transform-origin:0 50%;color:#000;">カーペット焦げ小</span>
<span class="t" style="left:8.3px;top:654.5px;font:bold 15.5px/1 'Noto Sans CJK JP','Liberation Sans',sans-serif;transform:translate(0,-50%) scale(0.997,1.0);transform-origin:0 50%;color:#000;">フロント廻り押され</span>
<span class="t" style="left:8.3px;top:672.5px;font:bold 15.5px/1 'Noto Sans CJK JP','Liberation Sans',sans-serif;transform:translate(0,-50%) scale(0.999,1.0);transform-origin:0 50%;color:#000;">スタッドレス<span style="font-family:'Noto Sans Mono CJK JP','Noto Sans CJK JP',monospace">T</span>、パンク修理キット欠</span>
<span class="t" style="left:8.3px;top:690.5px;font:bold 15.5px/1 'Noto Sans CJK JP','Liberation Sans',sans-serif;transform:translate(0,-50%) scale(1.002,1.0);transform-origin:0 50%;color:#000;">防錆処理済、バッテリー<span style="font-family:'Noto Sans Mono CJK JP','Noto Sans CJK JP',monospace">X</span></span>
<span class="t" style="left:8.45px;top:788.6px;font:normal 10.67px/1 'IPAGothic','Noto Sans CJK JP',monospace;transform:translate(0,-50%);transform-origin:0 50%;color:#222;">A:ｷｽﾞ</span>
<span class="t" style="left:39.7px;top:788.6px;font:normal 10.67px/1 'IPAGothic','Noto Sans CJK JP',monospace;transform:translate(0,-50%);transform-origin:0 50%;color:#222;">U:ﾍｺﾐ</span>
<span class="t" style="left:72.2px;top:788.6px;font:normal 10.67px/1 'IPAGothic','Noto Sans CJK JP',monospace;transform:translate(0,-50%);transform-origin:0 50%;color:#222;">B:ｷｽﾞを伴うﾍｺﾐ</span>
<span class="t" style="left:153.45px;top:788.6px;font:normal 10.67px/1 'IPAGothic','Noto Sans CJK JP',monospace;transform:translate(0,-50%);transform-origin:0 50%;color:#222;">P:要塗装</span>
<span class="t" style="left:200.95px;top:788.6px;font:normal 10.67px/1 'IPAGothic','Noto Sans CJK JP',monospace;transform:translate(0,-50%) scale(1.03,1.0);transform-origin:0 50%;color:#222;">W:補修跡</span>
<span class="t" style="left:249.7px;top:788.6px;font:normal 10.67px/1 'IPAGothic','Noto Sans CJK JP',monospace;transform:translate(0,-50%);transform-origin:0 50%;color:#222;">S:錆</span>
<span class="t" style="left:276.7px;top:788.6px;font:normal 10.67px/1 'IPAGothic','Noto Sans CJK JP',monospace;transform:translate(0,-50%);transform-origin:0 50%;color:#222;">C:腐食</span>
<span class="t" style="left:314.2px;top:788.6px;font:normal 10.67px/1 'IPAGothic','Noto Sans CJK JP',monospace;transform:translate(0,-50%) scale(1.035,1.0);transform-origin:0 50%;color:#222;">G:ﾌﾛﾝﾄｶﾞﾗｽ点ｷｽﾞ</span>
<span class="t" style="left:398.45px;top:788.6px;font:normal 10.67px/1 'IPAGothic','Noto Sans CJK JP',monospace;transform:translate(0,-50%) scale(1.04,1.0);transform-origin:0 50%;color:#222;">XX:交換済み</span>
<span class="t" style="left:464.2px;top:788.6px;font:normal 10.67px/1 'IPAGothic','Noto Sans CJK JP',monospace;transform:translate(0,-50%);transform-origin:0 50%;color:#222;">X:要交換</span>
<span class="t" style="left:513.45px;top:788.6px;font:normal 10.67px/1 'IPAGothic','Noto Sans CJK JP',monospace;transform:translate(0,-50%) scale(0.96,1.0);transform-origin:0 50%;color:#222;">内･外装評価</span>
<span class="t" style="left:578.45px;top:788.6px;font:normal 10.67px/1 'IPAGothic','Noto Sans CJK JP',monospace;transform:translate(0,-50%) scale(0.95,1.0);transform-origin:0 50%;color:#222;">5段階ﾗﾝｸ順(A･B･C･D･E)</span>
<span class="t" style="left:689.7px;top:788.6px;font:normal 10.67px/1 'IPAGothic','Noto Sans CJK JP',monospace;transform:translate(0,-50%);transform-origin:0 50%;color:#222;">1</span>
<span class="t" style="left:490.0px;top:409px;font:bold 16.5px/1 'Noto Sans CJK JP','Liberation Sans',sans-serif;transform:translate(-50%,-50%);transform-origin:50% 50%;color:#000;">X3</span>
<span class="t" style="left:547.5px;top:437.5px;font:bold 16.5px/1 'Noto Sans CJK JP','Liberation Sans',sans-serif;transform:translate(-50%,-50%);transform-origin:50% 50%;color:#000;">X</span>
<span class="t" style="left:478.7px;top:457.4px;font:bold 16.5px/1 'Noto Sans CJK JP','Liberation Sans',sans-serif;transform:translate(-50%,-50%);transform-origin:50% 50%;color:#000;">B4</span>
<span class="t" style="left:646.5px;top:480px;font:bold 16.5px/1 'Noto Sans CJK JP','Liberation Sans',sans-serif;transform:translate(-50%,-50%);transform-origin:50% 50%;color:#000;">W2</span>
<span class="t" style="left:497.5px;top:500px;font:bold 16.5px/1 'Noto Sans CJK JP','Liberation Sans',sans-serif;transform:translate(-50%,-50%);transform-origin:50% 50%;color:#000;">XX</span>
<span class="t" style="left:706.5px;top:500px;font:bold 16.5px/1 'Noto Sans CJK JP','Liberation Sans',sans-serif;transform:translate(-50%,-50%);transform-origin:50% 50%;color:#000;">W2</span>
<span class="t" style="left:532.5px;top:527.5px;font:bold 16.5px/1 'Noto Sans CJK JP','Liberation Sans',sans-serif;transform:translate(-50%,-50%);transform-origin:50% 50%;color:#000;">W2</span>
<span class="t" style="left:631.5px;top:526.5px;font:bold 16.5px/1 'Noto Sans CJK JP','Liberation Sans',sans-serif;transform:translate(-50%,-50%);transform-origin:50% 50%;color:#000;">G</span>
<span class="t" style="left:432.5px;top:533.5px;font:bold 16.5px/1 'Noto Sans CJK JP','Liberation Sans',sans-serif;transform:translate(-50%,-50%);transform-origin:50% 50%;color:#000;">S3</span>
<span class="t" style="left:478.5px;top:535px;font:bold 16.5px/1 'Noto Sans CJK JP','Liberation Sans',sans-serif;transform:translate(-50%,-50%);transform-origin:50% 50%;color:#000;">W1</span>
<span class="t" style="left:477.5px;top:560px;font:bold 16.5px/1 'Noto Sans CJK JP','Liberation Sans',sans-serif;transform:translate(-50%,-50%);transform-origin:50% 50%;color:#000;">C1</span>
<span class="t" style="left:726.2px;top:535px;font:bold 16.5px/1 'Noto Sans CJK JP','Liberation Sans',sans-serif;transform:translate(-50%,-50%);transform-origin:50% 50%;color:#000;">C1</span>
<span class="t" style="left:726.2px;top:560px;font:bold 16.5px/1 'Noto Sans CJK JP','Liberation Sans',sans-serif;transform:translate(-50%,-50%);transform-origin:50% 50%;color:#000;">B1</span>
<span class="t" style="left:478.5px;top:594px;font:bold 16.5px/1 'Noto Sans CJK JP','Liberation Sans',sans-serif;transform:translate(-50%,-50%);transform-origin:50% 50%;color:#000;">B4</span>
<span class="t" style="left:433.5px;top:614px;font:bold 16.5px/1 'Noto Sans CJK JP','Liberation Sans',sans-serif;transform:translate(-50%,-50%);transform-origin:50% 50%;color:#000;">B4</span>
<span class="t" style="left:726.5px;top:594px;font:bold 16.5px/1 'Noto Sans CJK JP','Liberation Sans',sans-serif;transform:translate(-50%,-50%);transform-origin:50% 50%;color:#000;">B4</span>
<span class="t" style="left:726.2px;top:620px;font:bold 16.5px/1 'Noto Sans CJK JP','Liberation Sans',sans-serif;transform:translate(-50%,-50%);transform-origin:50% 50%;color:#000;">S1</span>
<span class="t" style="left:771.0px;top:614px;font:bold 16.5px/1 'Noto Sans CJK JP','Liberation Sans',sans-serif;transform:translate(-50%,-50%);transform-origin:50% 50%;color:#000;">S3</span>
<span class="t" style="left:492.5px;top:648.5px;font:bold 16.5px/1 'Noto Sans CJK JP','Liberation Sans',sans-serif;transform:translate(-50%,-50%);transform-origin:50% 50%;color:#000;">X</span>
<span class="t" style="left:563.5px;top:665px;font:bold 16.5px/1 'Noto Sans CJK JP','Liberation Sans',sans-serif;transform:translate(-50%,-50%);transform-origin:50% 50%;color:#000;">B4</span>
<span class="t" style="left:711.0px;top:685px;font:bold 16.5px/1 'Noto Sans CJK JP','Liberation Sans',sans-serif;transform:translate(-50%,-50%);transform-origin:50% 50%;color:#000;">C3</span>
<span class="t" style="left:575.0px;top:715px;font:bold 16.5px/1 'Noto Sans CJK JP','Liberation Sans',sans-serif;transform:translate(-50%,-50%);transform-origin:50% 50%;color:#000;">U2</span>
<span class="t" style="left:713.5px;top:738.5px;font:bold 16.5px/1 'Noto Sans CJK JP','Liberation Sans',sans-serif;transform:translate(-50%,-50%);transform-origin:50% 50%;color:#000;">X3</span>
<span class="t" style="left:428.9px;top:448.0px;font:500 15.5px/1 'Noto Sans CJK JP','Liberation Sans',sans-serif;transform:translate(-50%,-50%);transform-origin:50% 50%;color:#000;-webkit-text-stroke:0.3px #000;">5</span>
<span class="t" style="left:413.9px;top:447.5px;font:400 15.5px/1 'Noto Sans CJK JP','Liberation Sans',sans-serif;transform:translate(-50%,-50%) scale(1.15,0.86);transform-origin:50% 50%;color:#1a1a1a;">[</span>
<span class="t" style="left:444.6px;top:447.5px;font:400 15.5px/1 'Noto Sans CJK JP','Liberation Sans',sans-serif;transform:translate(-50%,-50%) scale(1.15,0.86);transform-origin:50% 50%;color:#1a1a1a;">]</span>
<span class="t" style="left:775.0px;top:448.0px;font:500 15.5px/1 'Noto Sans CJK JP','Liberation Sans',sans-serif;transform:translate(-50%,-50%);transform-origin:50% 50%;color:#000;-webkit-text-stroke:0.3px #000;">5</span>
<span class="t" style="left:761.0px;top:447.5px;font:400 15.5px/1 'Noto Sans CJK JP','Liberation Sans',sans-serif;transform:translate(-50%,-50%) scale(1.15,0.86);transform-origin:50% 50%;color:#1a1a1a;">[</span>
<span class="t" style="left:791.6px;top:447.5px;font:400 15.5px/1 'Noto Sans CJK JP','Liberation Sans',sans-serif;transform:translate(-50%,-50%) scale(1.15,0.86);transform-origin:50% 50%;color:#1a1a1a;">]</span>
<span class="t" style="left:429.3px;top:691.6px;font:500 15.5px/1 'Noto Sans CJK JP','Liberation Sans',sans-serif;transform:translate(-50%,-50%);transform-origin:50% 50%;color:#000;-webkit-text-stroke:0.3px #000;">6</span>
<span class="t" style="left:413.7px;top:691.1px;font:400 15.5px/1 'Noto Sans CJK JP','Liberation Sans',sans-serif;transform:translate(-50%,-50%) scale(1.15,0.86);transform-origin:50% 50%;color:#1a1a1a;">[</span>
<span class="t" style="left:443.7px;top:691.1px;font:400 15.5px/1 'Noto Sans CJK JP','Liberation Sans',sans-serif;transform:translate(-50%,-50%) scale(1.15,0.86);transform-origin:50% 50%;color:#1a1a1a;">]</span>
<span class="t" style="left:775.1px;top:691.6px;font:500 15.5px/1 'Noto Sans CJK JP','Liberation Sans',sans-serif;transform:translate(-50%,-50%);transform-origin:50% 50%;color:#000;-webkit-text-stroke:0.3px #000;">6</span>
<span class="t" style="left:760.9px;top:691.1px;font:400 15.5px/1 'Noto Sans CJK JP','Liberation Sans',sans-serif;transform:translate(-50%,-50%) scale(1.15,0.86);transform-origin:50% 50%;color:#1a1a1a;">[</span>
<span class="t" style="left:791.8px;top:691.1px;font:400 15.5px/1 'Noto Sans CJK JP','Liberation Sans',sans-serif;transform:translate(-50%,-50%) scale(1.15,0.86);transform-origin:50% 50%;color:#1a1a1a;">]</span>
<span class="t" style="left:437.5px;top:765px;font:bold 15px/1 'Noto Sans CJK JP','Liberation Sans',sans-serif;transform:translate(-50%,-50%);transform-origin:50% 50%;color:#000;">ﾚｽ</span>
<span class="t" style="left:422.2px;top:764.2px;font:400 15.5px/1 'Noto Sans CJK JP','Liberation Sans',sans-serif;transform:translate(-50%,-50%) scale(1.15,0.86);transform-origin:50% 50%;color:#1a1a1a;">[</span>
<span class="t" style="left:452.1px;top:764.2px;font:400 15.5px/1 'Noto Sans CJK JP','Liberation Sans',sans-serif;transform:translate(-50%,-50%) scale(1.15,0.86);transform-origin:50% 50%;color:#1a1a1a;">]</span>
</body></html>
